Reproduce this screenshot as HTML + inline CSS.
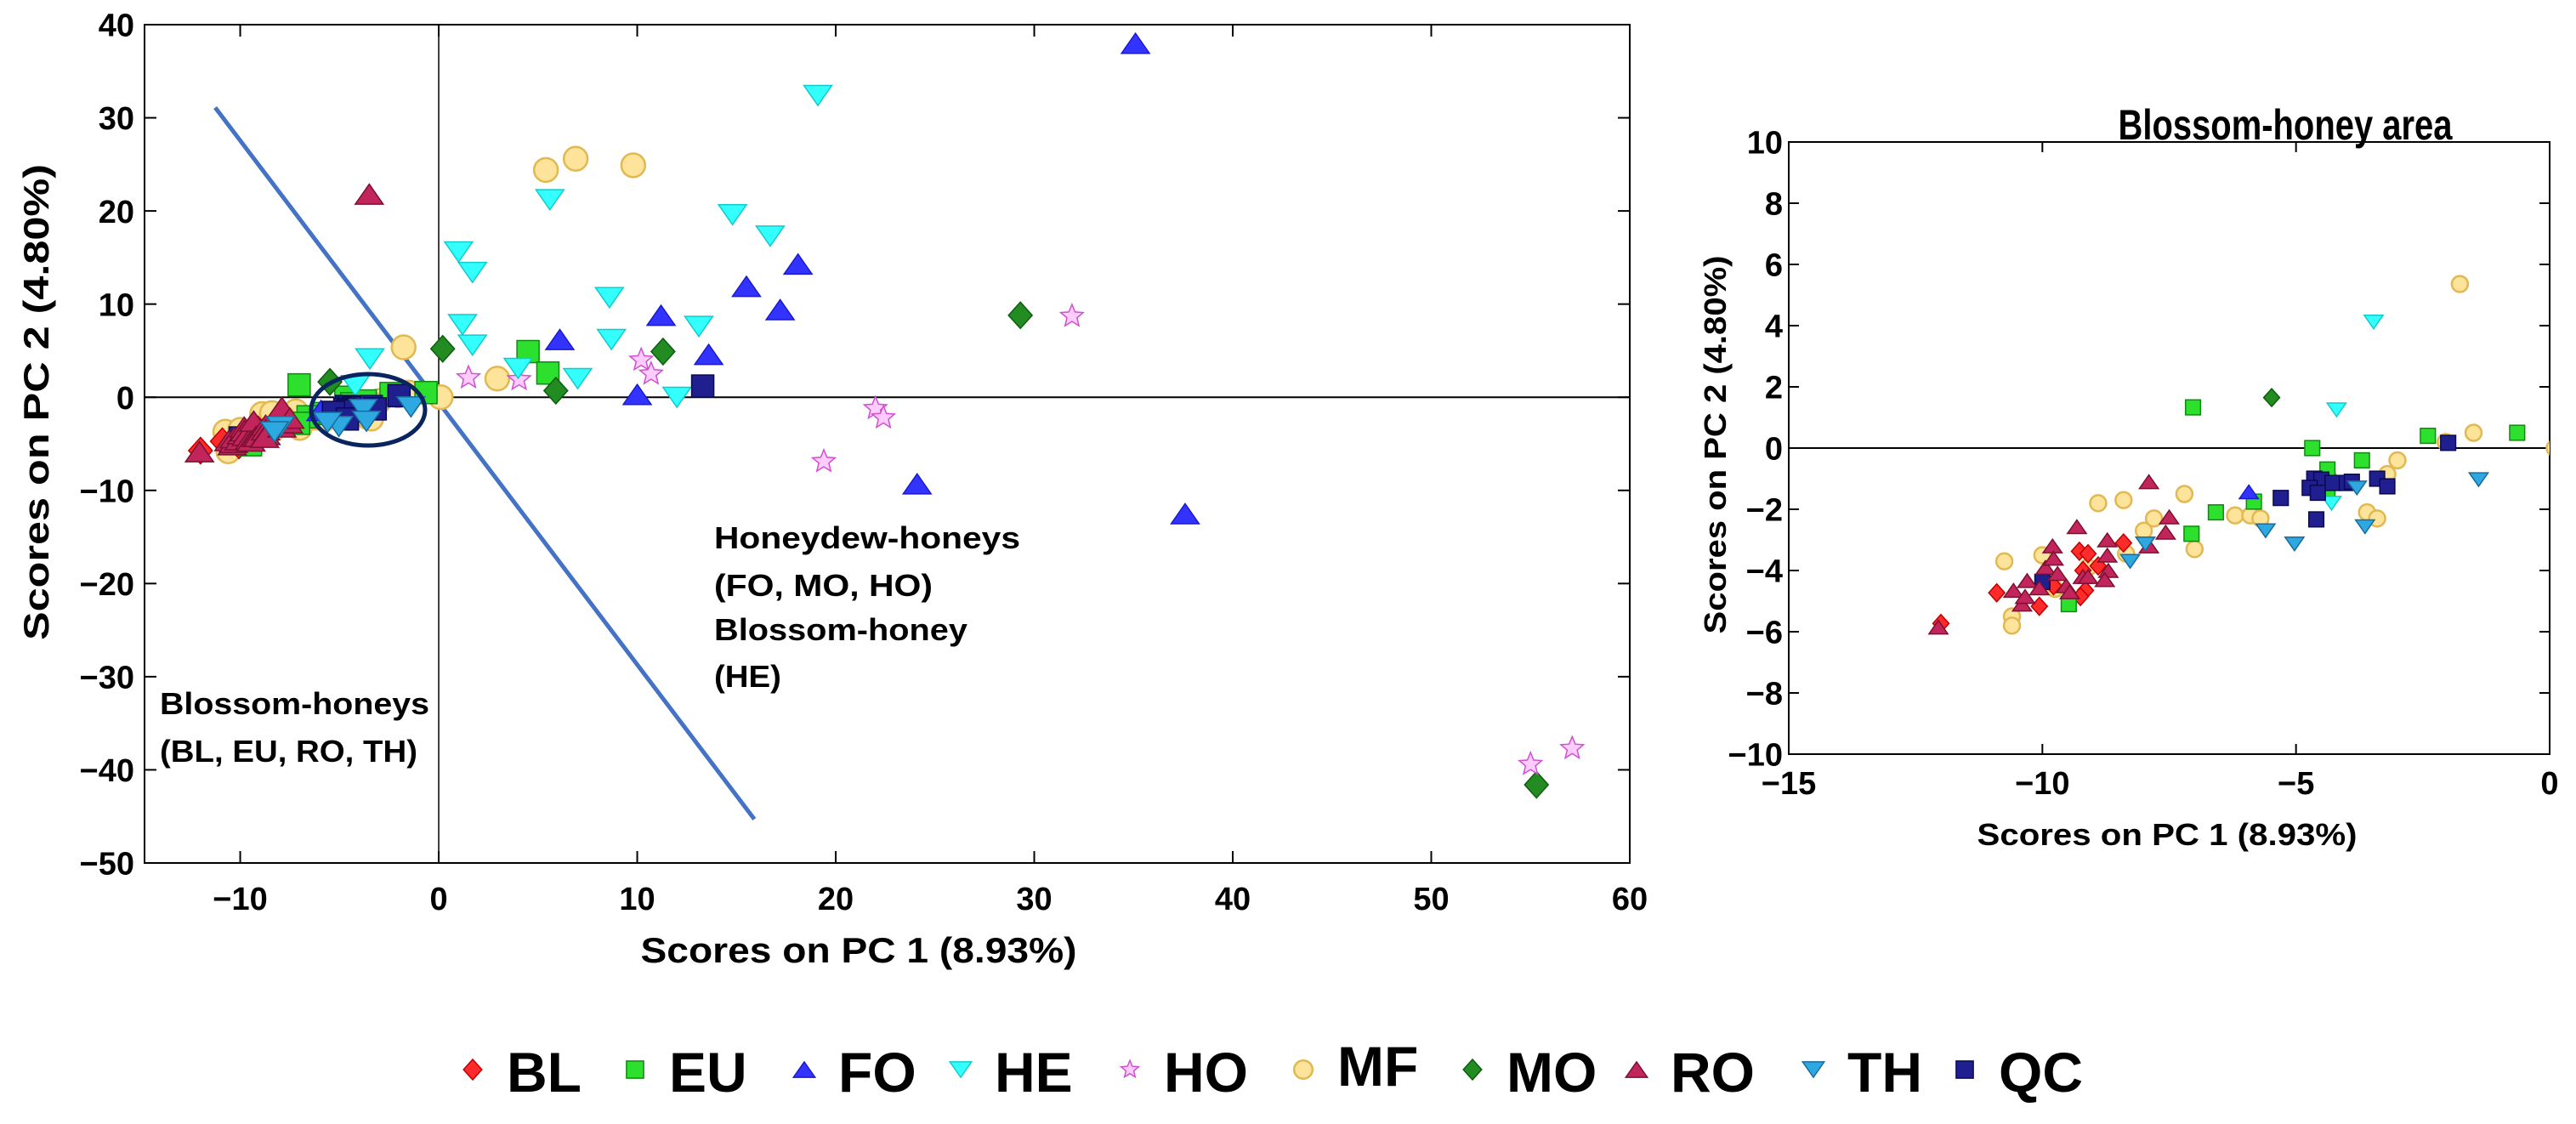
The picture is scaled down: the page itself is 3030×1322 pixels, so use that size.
<!DOCTYPE html>
<html><head><meta charset="utf-8"><style>
html,body{margin:0;padding:0;background:#fff;overflow:hidden;width:3030px;height:1322px}
svg{display:block}
text{font-family:"Liberation Sans",sans-serif;font-weight:bold;fill:#000}
</style></head><body>
<svg id="chart" width="3030" height="1322" viewBox="0 0 3030 1322" xmlns="http://www.w3.org/2000/svg">
<g id="left"></g>
<g id="right"></g>
<g id="legend"></g>
</svg>
<script>
const classes = ["MF","BL","EU","MO","HO","FO","HE","QC","RO","TH"];
const legendOrder = ["BL","EU","FO","HE","HO","MF","MO","RO","TH","QC"];
const xBL = [-12.0,-10.9,-10.06,-9.27,-9.1,-9.2,-9.15,-9.25,-8.4,-8.9,-9.78];
const yBL = [-5.73,-4.73,-5.17,-3.37,-3.45,-4.0,-4.65,-4.85,-3.1,-3.85,-4.5];
const xEU = [-7.03,-4.68,-2.4,-0.64,-4.38,-3.7,-5.83,-4.38,-6.58,-7.06,-9.48,4.5,5.5];
const yEU = [1.33,0.0,0.4,0.5,-0.7,-0.4,-1.75,-1.4,-2.1,-2.8,-5.1,4.9,2.6];
const xFO = [18.1,15.5,17.2,11.2,6.1,13.6,10.0,24.1,35.1,37.6,-5.93];
const yFO = [14.3,11.9,9.4,8.8,6.2,4.6,0.3,-9.3,38.0,-12.5,-1.43];
const xHE = [19.1,5.6,1.0,1.7,8.6,14.8,16.7,1.2,1.7,8.7,13.1,4.0,7.0,12.0,-3.47,-4.2,-4.3];
const yHE = [32.4,21.2,15.6,13.4,10.7,19.6,17.3,7.8,5.6,6.2,7.6,3.1,2.0,0.0,4.12,1.25,-1.8];
const xHO = [1.5,4.05,10.2,10.7,22.0,22.4,19.4,31.9,55.0,57.1];
const yHO = [2.1,1.9,4.0,2.5,-1.2,-2.2,-6.9,8.7,-39.4,-37.7];
const xMF = [5.4,6.9,9.8,2.95,0.1,-1.77,-1.5,-2.05,-3.0,-3.2,-3.6,-3.4,-7.2,-8.9,-8.4,-7.8,-8.0,-7.0,-6.2,-5.9,-5.7,-10.75,-10.0,-10.6,-10.6,-9.75,-9.1,-8.35,-4.35];
const yMF = [24.4,25.6,24.9,2.0,0.0,5.36,0.5,0.2,-0.4,-0.85,-2.1,-2.3,-1.5,-1.8,-1.7,-2.3,-2.7,-3.3,-2.2,-2.2,-2.3,-3.7,-3.5,-5.5,-5.8,-4.6,-3.9,-3.45,-1.0];
const xMO = [0.2,11.3,5.9,-5.48,29.3,55.3];
const yMO = [5.2,4.9,0.7,1.65,8.8,-41.6];
const xRO = [-3.5,-12.05,-10.57,-10.4,-10.34,-10.3,-10.06,-9.94,-9.8,-9.78,-9.7,-9.53,-9.46,-9.32,-9.2,-9.1,-8.72,-8.72,-8.7,-8.77,-7.9,-7.9,-7.57,-7.5];
const yRO = [21.8,-5.85,-4.65,-5.1,-4.85,-4.33,-4.57,-3.9,-3.2,-3.6,-4.1,-4.5,-4.7,-2.57,-4.2,-4.2,-3.0,-3.5,-4.0,-4.3,-1.1,-3.2,-2.75,-2.25];
const xTH = [-1.4,-3.8,-3.64,-5.03,-5.6,-7.97,-8.27];
const yTH = [-1.03,-1.3,-2.57,-3.13,-2.7,-3.13,-3.7];
const xQC = [13.3,-2.0,-4.64,-4.5,-4.28,-4.0,-3.9,-3.4,-3.2,-4.73,-4.57,-5.3,-4.6,-10.0];
const yQC = [1.2,0.17,-1.0,-1.03,-1.14,-1.14,-1.1,-1.0,-1.25,-1.3,-1.46,-1.63,-2.33,-4.37];
const leftXTicks = [-10,0,10,20,30,40,50,60];
const leftYTicks = [40,30,20,10,0,-10,-20,-30,-40,-50];
const rightXTicks = [-15,-10,-5,0];
const rightYTicks = [10,8,6,4,2,0,-2,-4,-6,-8,-10];
const divider = {x1:-11.26,y1:31.1,x2:15.9,y2:-45.3};

const data = {BL:[xBL,yBL],EU:[xEU,yEU],FO:[xFO,yFO],HE:[xHE,yHE],HO:[xHO,yHO],MF:[xMF,yMF],MO:[xMO,yMO],RO:[xRO,yRO],TH:[xTH,yTH],QC:[xQC,yQC]};
const style = {
 BL:{shape:"diamond",fill:"#FF2A2A",stroke:"#C00000"},
 EU:{shape:"square",fill:"#2EE02E",stroke:"#118811"},
 FO:{shape:"up",fill:"#3333FF",stroke:"#1A1ACC"},
 HE:{shape:"down",fill:"#33FFFF",stroke:"#11CCCC"},
 HO:{shape:"star",fill:"#FFCCFF",stroke:"#D050D0"},
 MF:{shape:"circle",fill:"#FDE49A",stroke:"#E2B850"},
 MO:{shape:"diamond",fill:"#228B22",stroke:"#0D5D0D"},
 RO:{shape:"up",fill:"#C2255C",stroke:"#7A1030"},
 TH:{shape:"down",fill:"#2EA8E0",stroke:"#1A6A9A"},
 QC:{shape:"square",fill:"#1F1F8F",stroke:"#0A0A50"}
};
const NS="http://www.w3.org/2000/svg";
function mk(tag,attrs,parent){const e=document.createElementNS(NS,tag);for(const k in attrs)e.setAttribute(k,attrs[k]);parent.appendChild(e);return e;}
function txt(parent,x,y,s,size,anchor,extra){const t=mk("text",Object.assign({x:x,y:y,"font-size":size,"text-anchor":anchor||"middle"},extra||{}),parent);t.textContent=s;return t;}
function marker(parent,shape,cx,cy,s,fill,stroke){
 let e;
 if(shape==="diamond"){const w=s*0.45,h=s*0.5;e=mk("polygon",{points:`${cx},${cy-h} ${cx+w},${cy} ${cx},${cy+h} ${cx-w},${cy}`},parent);}
 else if(shape==="square"){const h=s*0.42;e=mk("rect",{x:cx-h,y:cy-h,width:2*h,height:2*h},parent);}
 else if(shape==="up"){const w=s*0.53,h=s*0.38;e=mk("polygon",{points:`${cx},${cy-h} ${cx+w},${cy+h} ${cx-w},${cy+h}`},parent);}
 else if(shape==="down"){const w=s*0.53,h=s*0.38;e=mk("polygon",{points:`${cx-w},${cy-h} ${cx+w},${cy-h} ${cx},${cy+h}`},parent);}
 else if(shape==="circle"){e=mk("circle",{cx:cx,cy:cy,r:s*0.45},parent);}
 else {let p=[];for(let i=0;i<10;i++){const r=i%2?s*0.2:s*0.45;const a=-Math.PI/2+i*Math.PI/5;p.push((cx+r*Math.cos(a)).toFixed(1)+","+(cy+r*Math.sin(a)).toFixed(1));}e=mk("polygon",{points:p.join(" ")},parent);}
 e.setAttribute("fill",fill);e.setAttribute("stroke",stroke);e.setAttribute("stroke-width",shape==="circle"?2.5:1.5);
 return e;
}
function plot(g,cfg){
 const sx=v=>cfg.px0+(v-cfg.xmin)/(cfg.xmax-cfg.xmin)*(cfg.px1-cfg.px0);
 const sy=v=>cfg.py0+(cfg.ymax-v)/(cfg.ymax-cfg.ymin)*(cfg.py1-cfg.py0);
 const clipId=cfg.id+"-clip";
 const defs=mk("defs",{},g);const cp=mk("clipPath",{id:clipId},defs);
 mk("rect",{x:cfg.px0,y:cfg.py0,width:cfg.px1-cfg.px0,height:cfg.py1-cfg.py0},cp);
 const fr=mk("rect",{x:cfg.px0,y:cfg.py0,width:cfg.px1-cfg.px0,height:cfg.py1-cfg.py0,fill:"#fff",stroke:"#000","stroke-width":2},g);
 
 
 const zh=mk("line",{x1:cfg.px0,x2:cfg.px1,y1:sy(0),y2:sy(0),stroke:"#000","stroke-width":2},g);
 
 
 if(cfg.vzero){const zv=mk("line",{x1:sx(0),x2:sx(0),y1:cfg.py0,y2:cfg.py1,stroke:"#000","stroke-width":1.5},g);
  
  }
 const ticks=mk("g",{stroke:"#000","stroke-width":2},g);
 
 
 cfg.xt.forEach(v=>{const x=sx(v);mk("line",{x1:x,x2:x,y1:cfg.py1,y2:cfg.py1-cfg.tl},ticks);mk("line",{x1:x,x2:x,y1:cfg.py0,y2:cfg.py0+cfg.tl},ticks);
  const t=txt(g,x,cfg.xlabY,String(v).replace("-","\u2212"),cfg.tfs);
  
  });
 cfg.yt.forEach(v=>{const y=sy(v);mk("line",{x1:cfg.px0,x2:cfg.px0+cfg.tl,y1:y,y2:y},ticks);mk("line",{x1:cfg.px1,x2:cfg.px1-cfg.tl,y1:y,y2:y},ticks);
  const t=txt(g,cfg.ylabX,y+cfg.tfs*0.36,String(v).replace("-","\u2212"),cfg.tfs,"end");
  
  });
 const mg=mk("g",{"clip-path":`url(#${clipId})`},g);
 
 
 if(cfg.extra)cfg.extra(mg,sx,sy);
 classes.forEach(c=>{const st=style[c];const [xs,ys]=data[c];
  xs.forEach((xv,i)=>{const m=marker(mg,st.shape,sx(xv),sy(ys[i]),cfg.ms,st.fill,st.stroke);
   
   });});
 if(cfg.post)cfg.post(mg,sx,sy);
 return {sx,sy};
}
const L=document.getElementById("left");
plot(L,{id:"L",xmin:-14.82,xmax:60,ymin:-50,ymax:40,px0:170,px1:1917,py0:29,py1:1015,xt:leftXTicks,yt:leftYTicks,tl:14,tfs:38,xlabY:1070,ylabX:158,ms:31,vzero:true,
 extra:(g,sx,sy)=>{const l=mk("line",{x1:sx(divider.x1),y1:sy(divider.y1),x2:sx(divider.x2),y2:sy(divider.y2),stroke:"#4472C4","stroke-width":5},g);
  
  },
 post:(g,sx,sy)=>{const e=mk("ellipse",{cx:433,cy:482,rx:67,ry:42,fill:"none",stroke:"#0A2460","stroke-width":5},g);
  
  }
});
[["Blossom-honeys",188,840,317],["(BL, EU, RO, TH)",188,896,303],["Honeydew-honeys",840,645,360],["(FO, MO, HO)",840,701,257],["Blossom-honey",840,753,298],["(HE)",840,808,79]].forEach(a=>{
 const t=txt(L,a[1],a[2],a[0],36,"start",{textLength:a[3],lengthAdjust:"spacingAndGlyphs"});
 
 });
let t=txt(L,1010,1132,"Scores on PC 1 (8.93%)",42,"middle",{textLength:513,lengthAdjust:"spacingAndGlyphs"});


t=txt(L,0,0,"Scores on PC 2 (4.80%)",42,"middle",{transform:"translate(57,473) rotate(-90)",textLength:560,lengthAdjust:"spacingAndGlyphs"});



const R=document.getElementById("right");
plot(R,{id:"R",xmin:-15,xmax:0,ymin:-10,ymax:10,px0:2104,px1:2999,py0:167,py1:887,xt:rightXTicks,yt:rightYTicks,tl:12,tfs:38,xlabY:934,ylabX:2097,ms:21,vzero:false});
t=txt(R,2688,164,"Blossom-honey area",50,"middle",{textLength:393,lengthAdjust:"spacingAndGlyphs"});


t=txt(R,2549,994,"Scores on PC 1 (8.93%)",36,"middle",{textLength:447,lengthAdjust:"spacingAndGlyphs"});


t=txt(R,0,0,"Scores on PC 2 (4.80%)",36,"middle",{transform:"translate(2030,523) rotate(-90)",textLength:445,lengthAdjust:"spacingAndGlyphs"});



const G=document.getElementById("legend");
const legMX=[556,747,946,1130,1329,1533,1732,1925,2133,2311];
legendOrder.forEach((c,i)=>{const st=style[c];
 const it=mk("g",{},G);
 
 
 marker(it,st.shape,legMX[i],1258,24,st.fill,st.stroke);
 txt(it,legMX[i]+40,c==="MF"?1277:1284,c,66,"start");
});
</script>
</body></html>
